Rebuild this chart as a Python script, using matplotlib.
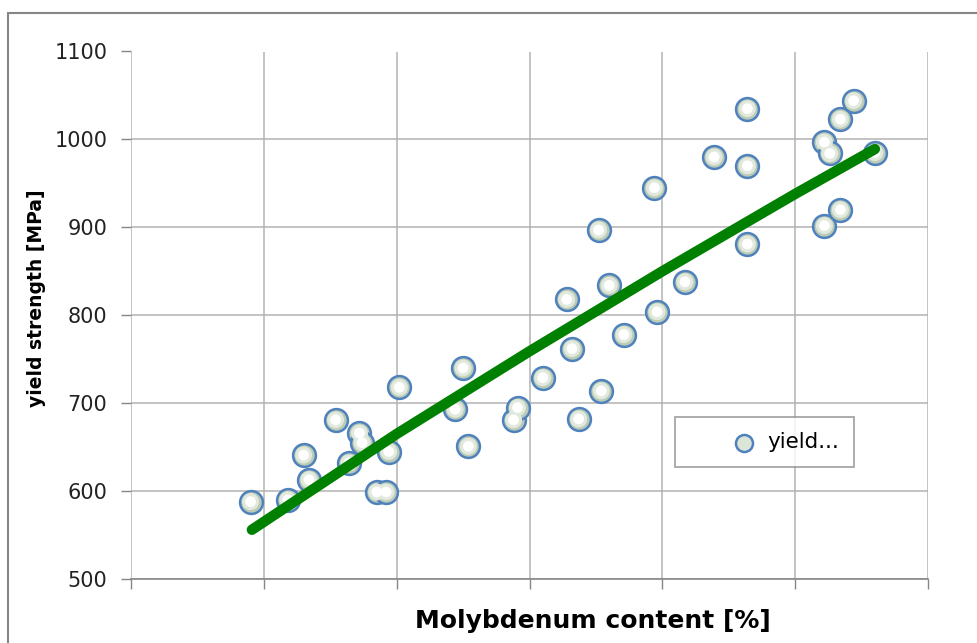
import matplotlib.pyplot as plt
import numpy as np
from matplotlib.patches import Rectangle

# molybdenum content (no tick labels on the original axis) and yield strength
mo_content = [0.90, 1.18, 1.30, 1.34, 1.54, 1.64, 1.72, 1.74, 1.85, 1.92,
              1.94, 2.02, 2.44, 2.50, 2.54, 2.88, 2.91, 3.10, 3.28, 3.32,
              3.37, 3.52, 3.54, 3.60, 3.71, 3.94, 3.96, 4.17, 4.39, 4.64,
              4.64, 4.64, 5.22, 5.26, 5.22, 5.34, 5.34, 5.44, 5.60]
yield_mpa = [588, 590, 641, 613, 681, 632, 666, 655, 599, 599,
             645, 718, 693, 740, 651, 681, 695, 729, 818, 762,
             682, 897, 714, 834, 778, 945, 804, 838, 980, 1035,
             970, 881, 997, 984, 902, 1023, 920, 1044, 985]
# trend line
trend_x = [0.91, 2.0, 3.0, 4.0, 5.0, 5.60]
trend_y = [556, 665, 759, 850, 938, 989]
y_ticks = [500, 600, 700, 800, 900, 1000, 1100]

fig = plt.figure(figsize=(9.77, 6.43), dpi=100)
ax = fig.add_axes([131 / 977, 1 - 579 / 643, 797 / 977, 527.5 / 643])

# outer chart frame
fig.patches.append(Rectangle((8 / 977, -0.1), 1.2, 1 - 13 / 643 + 0.1,
                             transform=fig.transFigure, fill=False,
                             edgecolor='#868686', linewidth=1.5))

# markers, layered to fake the radial shading
ax.scatter(mo_content, yield_mpa, s=270, facecolor='#bccbb7',
           edgecolor='#4f81bd', linewidth=1.8, zorder=3)
ax.scatter(mo_content, yield_mpa, s=150, facecolor='#e0e9dc',
           edgecolor='none', zorder=3)
ax.scatter(mo_content, yield_mpa, s=60, facecolor='#ffffff',
           edgecolor='none', zorder=3)
ax.plot(trend_x, trend_y, color='#008000', linewidth=7.5,
        solid_capstyle='round', solid_joinstyle='round', zorder=4)

ax.set_xlim(0, 6)
ax.set_ylim(500, 1100)
ax.set_xticks(np.arange(0, 7))
ax.set_xticklabels([])
ax.set_yticks(y_ticks)
ax.grid(color='#b3b3b3', linewidth=1.1)
ax.set_axisbelow(True)
for s in ['top', 'right', 'left']:
    ax.spines[s].set_visible(False)
ax.spines['bottom'].set_color('#868686')
ax.spines['bottom'].set_linewidth(1.2)
ax.tick_params(axis='y', length=7, color='#868686', width=1, pad=10,
               labelsize=15, labelcolor='#222222')
ax.tick_params(axis='x', length=7, color='#868686', width=1)

fig.text(593 / 977, 1 - 621 / 643, 'Molybdenum content [%]', ha='center',
         va='center', fontsize=18, fontweight='bold')
fig.text(37 / 977, 1 - 298 / 643, 'yield strength [MPa]', ha='center',
         va='center', rotation=90, fontsize=13.5, fontweight='bold')

# legend: a dummy handle in the same style as the markers
h = ax.scatter([], [], s=150, facecolor='#dce6d8', edgecolor='#4f81bd',
               linewidth=1.8)
leg = ax.legend([h], ['yield...'], loc='center', bbox_to_anchor=(0.795, 0.259),
                fancybox=False, edgecolor='#868686', fontsize=15.5,
                handlelength=5, handletextpad=-1.4, borderpad=0.7,
                scatterpoints=1)
leg.get_frame().set_linewidth(1.2)

fig.savefig('out.png', dpi=100)
